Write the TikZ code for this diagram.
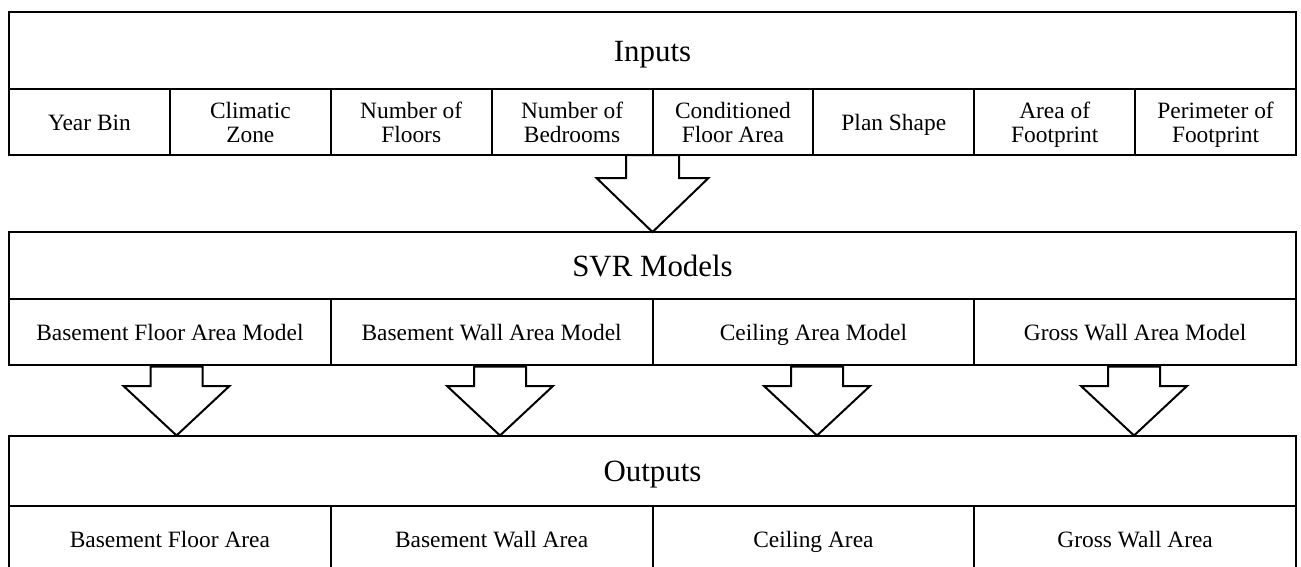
\documentclass[tikz,border=0pt]{standalone}
\usepackage{fontspec}
\setmainfont{Liberation Serif}
\usetikzlibrary{calc}
\newcommand\tst{\rule{0pt}{24bp}}
\newcommand\bst{\rule[-6.6bp]{0pt}{6.6bp}}
\newcommand\hst{\rule[-8bp]{0pt}{38bp}}
\begin{document}
\begin{tikzpicture}[x=1bp,y=-1bp,
  cell/.style={draw, line width=2bp, inner sep=0pt, outer sep=0pt, align=center,
    anchor=north west, font=\fontsize{23.5}{23.7}\selectfont},
  headcell/.style={cell, font=\fontsize{31}{31}\selectfont},
  blockarrow/.style={draw, line width=2bp, line join=miter}]
\useasboundingbox (0,0) rectangle (1301,567);
\clip (0,0) rectangle (1301,567);
% ---------- Inputs ----------
\node[headcell, minimum width=1287bp, minimum height=77bp] (inputs) at (9,12) {\hst Inputs};
\foreach \t [count=\i from 0] in {Year Bin, {Climatic\\Zone}, {Number of\\Floors},
  {Number of\\Bedrooms}, {Conditioned\\Floor Area}, Plan Shape, {Area of\\Footprint},
  {Perimeter of\\Footprint}}
  \node[cell, minimum width=160.875bp, minimum height=66bp] (in\i) at (9+160.875*\i,89) {\tst\t\bst};
% ---------- SVR Models ----------
\node[headcell, minimum width=1287bp, minimum height=67bp] (svr) at (9,232) {\hst SVR Models};
\foreach \t [count=\i from 0] in {Basement Floor Area Model, Basement Wall Area Model,
  Ceiling Area Model, Gross Wall Area Model}
  \node[cell, minimum width=321.75bp, minimum height=66bp] (m\i) at (9+321.75*\i,299) {\tst\t\bst};
% ---------- Outputs ----------
\node[headcell, minimum width=1287bp, minimum height=70.5bp] (out) at (9,435.5) {\hst Outputs};
\foreach \t [count=\i from 0] in {Basement Floor Area, Basement Wall Area,
  Ceiling Area, Gross Wall Area}
  \node[cell, minimum width=321.75bp, minimum height=66bp] (o\i) at (9+321.75*\i,506) {\tst\t\bst};
% ---------- block arrows ----------
\newcommand\blockarr[5]{%
  \draw[blockarrow] ($(#1)+(-#3,0)$) -- ($(#1)+(#3,0)$) -- ($(#1)+(#3,#5)$)
    -- ($(#1)+(#4,#5)$) -- (#2) -- ($(#1)+(-#4,#5)$) -- ($(#1)+(-#3,#5)$) -- cycle;}
\coordinate (a0top) at (in4.south west);
\coordinate (a0tip) at (a0top |- svr.north);
\blockarr{a0top}{a0tip}{26.5}{56}{23}
\foreach \xc [count=\i from 0] in {176.5, 500, 817, 1134} {
  \coordinate (b\i top) at (\xc,366.5);
  \coordinate (b\i tip) at (b\i top |- out.north);
  \blockarr{b\i top}{b\i tip}{26}{53}{19.5}
}
\end{tikzpicture}
\end{document}
